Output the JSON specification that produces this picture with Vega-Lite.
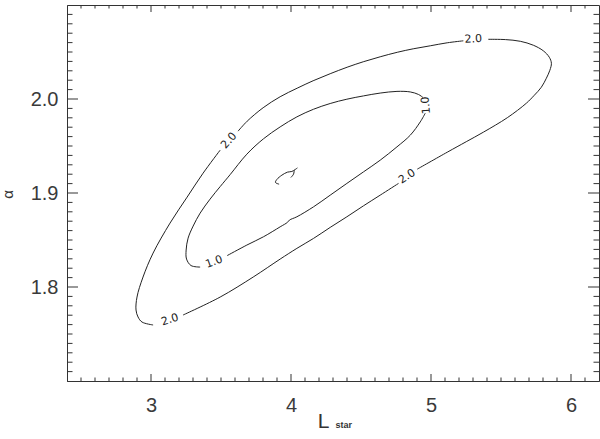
{
  "$schema": "https://vega.github.io/schema/vega-lite/v6.json",
  "width": 532,
  "height": 376,
  "autosize": {"type": "none"},
  "padding": {"left": 67, "top": 5, "right": 1, "bottom": 58},
  "background": "white",
  "config": {
    "view": {"stroke": "#333", "strokeWidth": 1},
    "axis": {
      "grid": false,
      "labelFont": "Liberation Sans",
      "labelFontSize": 20,
      "labelColor": "#3a3a3a",
      "domainColor": "#333",
      "tickColor": "#333",
      "titleColor": "#333",
      "titleFont": "Liberation Sans",
      "titleFontWeight": "normal"
    }
  },
  "datasets": {
    "lines": [
      {"seg": "A", "i": 0, "x": 5.409, "y": 2.0635},
      {"seg": "A", "i": 1, "x": 5.531, "y": 2.0632},
      {"seg": "A", "i": 2, "x": 5.638, "y": 2.0614},
      {"seg": "A", "i": 3, "x": 5.731, "y": 2.0572},
      {"seg": "A", "i": 4, "x": 5.802, "y": 2.0513},
      {"seg": "A", "i": 5, "x": 5.845, "y": 2.0444},
      {"seg": "A", "i": 6, "x": 5.860, "y": 2.0380},
      {"seg": "A", "i": 7, "x": 5.849, "y": 2.0306},
      {"seg": "A", "i": 8, "x": 5.824, "y": 2.0221},
      {"seg": "A", "i": 9, "x": 5.788, "y": 2.0125},
      {"seg": "A", "i": 10, "x": 5.738, "y": 2.0040},
      {"seg": "A", "i": 11, "x": 5.681, "y": 1.9955},
      {"seg": "A", "i": 12, "x": 5.545, "y": 1.9801},
      {"seg": "A", "i": 13, "x": 5.374, "y": 1.9647},
      {"seg": "A", "i": 14, "x": 5.252, "y": 1.9546},
      {"seg": "A", "i": 15, "x": 5.116, "y": 1.9434},
      {"seg": "A", "i": 16, "x": 4.902, "y": 1.9254},
      {"seg": "B", "i": 0, "x": 4.768, "y": 1.9102},
      {"seg": "B", "i": 1, "x": 4.637, "y": 1.8977},
      {"seg": "B", "i": 2, "x": 4.518, "y": 1.8864},
      {"seg": "B", "i": 3, "x": 4.399, "y": 1.8747},
      {"seg": "B", "i": 4, "x": 4.280, "y": 1.8634},
      {"seg": "B", "i": 5, "x": 4.161, "y": 1.8517},
      {"seg": "B", "i": 6, "x": 4.042, "y": 1.8411},
      {"seg": "B", "i": 7, "x": 3.9225, "y": 1.8297},
      {"seg": "B", "i": 8, "x": 3.730, "y": 1.8106},
      {"seg": "B", "i": 9, "x": 3.494, "y": 1.7893},
      {"seg": "B", "i": 10, "x": 3.229, "y": 1.7702},
      {"seg": "C", "i": 0, "x": 3.015, "y": 1.7596},
      {"seg": "C", "i": 1, "x": 2.936, "y": 1.7627},
      {"seg": "C", "i": 2, "x": 2.9075, "y": 1.7681},
      {"seg": "C", "i": 3, "x": 2.893, "y": 1.7755},
      {"seg": "C", "i": 4, "x": 2.900, "y": 1.7893},
      {"seg": "C", "i": 5, "x": 2.943, "y": 1.8106},
      {"seg": "C", "i": 6, "x": 3.015, "y": 1.8361},
      {"seg": "C", "i": 7, "x": 3.136, "y": 1.8680},
      {"seg": "C", "i": 8, "x": 3.258, "y": 1.8956},
      {"seg": "C", "i": 9, "x": 3.372, "y": 1.9211},
      {"seg": "C", "i": 10, "x": 3.494, "y": 1.9456},
      {"seg": "D", "i": 0, "x": 3.622, "y": 1.9658},
      {"seg": "D", "i": 1, "x": 3.687, "y": 1.9764},
      {"seg": "D", "i": 2, "x": 3.801, "y": 1.9907},
      {"seg": "D", "i": 3, "x": 3.9225, "y": 2.0024},
      {"seg": "D", "i": 4, "x": 4.044, "y": 2.0115},
      {"seg": "D", "i": 5, "x": 4.158, "y": 2.0194},
      {"seg": "D", "i": 6, "x": 4.280, "y": 2.0269},
      {"seg": "D", "i": 7, "x": 4.401, "y": 2.0338},
      {"seg": "D", "i": 8, "x": 4.516, "y": 2.0396},
      {"seg": "D", "i": 9, "x": 4.637, "y": 2.0449},
      {"seg": "D", "i": 10, "x": 4.759, "y": 2.0497},
      {"seg": "D", "i": 11, "x": 4.873, "y": 2.0534},
      {"seg": "D", "i": 12, "x": 4.995, "y": 2.0566},
      {"seg": "D", "i": 13, "x": 5.116, "y": 2.0598},
      {"seg": "D", "i": 14, "x": 5.231, "y": 2.0619},
      {"seg": "E", "i": 0, "x": 4.959, "y": 1.9849},
      {"seg": "E", "i": 1, "x": 4.923, "y": 1.9756},
      {"seg": "E", "i": 2, "x": 4.852, "y": 1.9615},
      {"seg": "E", "i": 3, "x": 4.757, "y": 1.9491},
      {"seg": "E", "i": 4, "x": 4.637, "y": 1.9349},
      {"seg": "E", "i": 5, "x": 4.518, "y": 1.9225},
      {"seg": "E", "i": 6, "x": 4.399, "y": 1.9102},
      {"seg": "E", "i": 7, "x": 4.280, "y": 1.8977},
      {"seg": "E", "i": 8, "x": 4.161, "y": 1.8853},
      {"seg": "E", "i": 9, "x": 4.042, "y": 1.8747},
      {"seg": "E", "i": 10, "x": 3.989, "y": 1.8712},
      {"seg": "E", "i": 11, "x": 3.975, "y": 1.8688},
      {"seg": "E", "i": 12, "x": 3.9225, "y": 1.8640},
      {"seg": "E", "i": 13, "x": 3.803, "y": 1.8534},
      {"seg": "E", "i": 14, "x": 3.6845, "y": 1.8446},
      {"seg": "E", "i": 15, "x": 3.544, "y": 1.8334},
      {"seg": "F", "i": 0, "x": 3.351, "y": 1.8212},
      {"seg": "F", "i": 1, "x": 3.286, "y": 1.8228},
      {"seg": "F", "i": 2, "x": 3.254, "y": 1.8297},
      {"seg": "F", "i": 3, "x": 3.251, "y": 1.8393},
      {"seg": "F", "i": 4, "x": 3.265, "y": 1.8520},
      {"seg": "F", "i": 5, "x": 3.301, "y": 1.8648},
      {"seg": "F", "i": 6, "x": 3.351, "y": 1.8786},
      {"seg": "F", "i": 7, "x": 3.422, "y": 1.8935},
      {"seg": "F", "i": 8, "x": 3.494, "y": 1.9068},
      {"seg": "F", "i": 9, "x": 3.565, "y": 1.9195},
      {"seg": "F", "i": 10, "x": 3.6845, "y": 1.9413},
      {"seg": "F", "i": 11, "x": 3.803, "y": 1.9576},
      {"seg": "F", "i": 12, "x": 3.9225, "y": 1.9703},
      {"seg": "F", "i": 13, "x": 4.042, "y": 1.9810},
      {"seg": "F", "i": 14, "x": 4.161, "y": 1.9891},
      {"seg": "F", "i": 15, "x": 4.280, "y": 1.9952},
      {"seg": "F", "i": 16, "x": 4.399, "y": 1.9998},
      {"seg": "F", "i": 17, "x": 4.518, "y": 2.0033},
      {"seg": "F", "i": 18, "x": 4.637, "y": 2.0063},
      {"seg": "F", "i": 19, "x": 4.757, "y": 2.0081},
      {"seg": "F", "i": 20, "x": 4.852, "y": 2.0075},
      {"seg": "F", "i": 21, "x": 4.911, "y": 2.0048},
      {"seg": "F", "i": 22, "x": 4.9425, "y": 2.0016},
      {"seg": "G", "i": 0, "x": 3.915, "y": 1.9094},
      {"seg": "G", "i": 1, "x": 3.889, "y": 1.9112},
      {"seg": "G", "i": 2, "x": 3.899, "y": 1.9144},
      {"seg": "G", "i": 3, "x": 3.935, "y": 1.9190},
      {"seg": "G", "i": 4, "x": 3.975, "y": 1.9222},
      {"seg": "G", "i": 5, "x": 4.006, "y": 1.9229},
      {"seg": "G", "i": 6, "x": 4.030, "y": 1.9250},
      {"seg": "G", "i": 7, "x": 4.046, "y": 1.9267},
      {"seg": "H", "i": 0, "x": 4.023, "y": 1.9243},
      {"seg": "H", "i": 1, "x": 4.018, "y": 1.9200},
      {"seg": "H", "i": 2, "x": 3.999, "y": 1.9165}
    ],
    "labels": [
      {"lab": 1, "x": 5.302, "y": 2.0635, "t": "2.0"},
      {"lab": 2, "x": 4.830, "y": 1.9174, "t": "2.0"},
      {"lab": 3, "x": 3.136, "y": 1.7649, "t": "2.0"},
      {"lab": 4, "x": 3.558, "y": 1.9556, "t": "2.0"},
      {"lab": 5, "x": 3.451, "y": 1.8265, "t": "1.0"},
      {"lab": 6, "x": 4.966, "y": 1.9934, "t": "1.0"}
    ],
    "xmaj": [{"v": 3}, {"v": 4}, {"v": 5}, {"v": 6}],
    "xmin": [{"v": 2.5}, {"v": 2.6}, {"v": 2.7}, {"v": 2.8}, {"v": 2.9}, {"v": 3.1}, {"v": 3.2}, {"v": 3.3}, {"v": 3.4}, {"v": 3.5}, {"v": 3.6}, {"v": 3.7}, {"v": 3.8}, {"v": 3.9}, {"v": 4.1}, {"v": 4.2}, {"v": 4.3}, {"v": 4.4}, {"v": 4.5}, {"v": 4.6}, {"v": 4.7}, {"v": 4.8}, {"v": 4.9}, {"v": 5.1}, {"v": 5.2}, {"v": 5.3}, {"v": 5.4}, {"v": 5.5}, {"v": 5.6}, {"v": 5.7}, {"v": 5.8}, {"v": 5.9}, {"v": 6.1}],
    "ymaj": [{"v": 1.8}, {"v": 1.9}, {"v": 2.0}],
    "ymin": [{"v": 1.71}, {"v": 1.72}, {"v": 1.73}, {"v": 1.74}, {"v": 1.75}, {"v": 1.76}, {"v": 1.77}, {"v": 1.78}, {"v": 1.79}, {"v": 1.81}, {"v": 1.82}, {"v": 1.83}, {"v": 1.84}, {"v": 1.85}, {"v": 1.86}, {"v": 1.87}, {"v": 1.88}, {"v": 1.89}, {"v": 1.91}, {"v": 1.92}, {"v": 1.93}, {"v": 1.94}, {"v": 1.95}, {"v": 1.96}, {"v": 1.97}, {"v": 1.98}, {"v": 1.99}, {"v": 2.01}, {"v": 2.02}, {"v": 2.03}, {"v": 2.04}, {"v": 2.05}, {"v": 2.06}, {"v": 2.07}, {"v": 2.08}, {"v": 2.09}]
  },
  "resolve": {"axis": {"x": "independent", "y": "independent"}},
  "layer": [
    {
      "data": {"name": "lines"},
      "mark": {"type": "line", "color": "#222", "strokeWidth": 1, "interpolate": "catmull-rom"},
      "encoding": {
        "x": {"field": "x", "type": "quantitative", "scale": {"domain": [2.4, 6.2], "nice": false, "zero": false},
          "axis": {"orient": "bottom", "values": [3, 4, 5, 6], "format": "d", "ticks": false, "labelPadding": 14,
            "title": "L", "titleX": 256, "titleY": 46, "titleAlign": "center", "titleBaseline": "alphabetic", "titleFontSize": 21, "titleAngle": 0}},
        "y": {"field": "y", "type": "quantitative", "scale": {"domain": [1.7, 2.1], "nice": false, "zero": false},
          "axis": {"orient": "left", "values": [1.8, 1.9, 2.0], "format": ".1f", "ticks": false, "labelPadding": 9,
            "title": "α", "titleX": -60, "titleY": 189, "titleAngle": -90, "titleAlign": "center", "titleBaseline": "middle", "titleFontSize": 15}},
        "detail": {"field": "seg"},
        "order": {"field": "i", "type": "quantitative"}
      }
    },
    {
      "data": {"name": "labels"},
      "transform": [{"filter": "datum.lab == 1"}],
      "mark": {"type": "text", "angle": -3, "font": "DejaVu Sans", "fontSize": 11, "color": "#222", "align": "center", "baseline": "middle"},
      "encoding": {
        "x": {"field": "x", "type": "quantitative", "scale": {"domain": [2.4, 6.2], "nice": false, "zero": false},
          "axis": {"orient": "bottom", "values": [3], "labels": false, "ticks": false, "domain": false,
            "title": "star", "titleX": 268, "titleY": 46, "titleAlign": "left", "titleBaseline": "alphabetic", "titleFontSize": 9, "titleFontWeight": "bold", "titleAngle": 0}},
        "y": {"field": "y", "type": "quantitative", "scale": {"domain": [1.7, 2.1], "nice": false, "zero": false}, "axis": null},
        "text": {"field": "t"}
      }
    },
    {
      "data": {"name": "labels"},
      "transform": [{"filter": "datum.lab == 2"}],
      "mark": {"type": "text", "angle": -33, "font": "DejaVu Sans", "fontSize": 11, "color": "#222", "align": "center", "baseline": "middle"},
      "encoding": {
        "x": {"field": "x", "type": "quantitative", "scale": {"domain": [2.4, 6.2], "nice": false, "zero": false}, "axis": null},
        "y": {"field": "y", "type": "quantitative", "scale": {"domain": [1.7, 2.1], "nice": false, "zero": false}, "axis": null},
        "text": {"field": "t"}
      }
    },
    {
      "data": {"name": "labels"},
      "transform": [{"filter": "datum.lab == 3"}],
      "mark": {"type": "text", "angle": -17, "font": "DejaVu Sans", "fontSize": 11, "color": "#222", "align": "center", "baseline": "middle"},
      "encoding": {
        "x": {"field": "x", "type": "quantitative", "scale": {"domain": [2.4, 6.2], "nice": false, "zero": false}, "axis": null},
        "y": {"field": "y", "type": "quantitative", "scale": {"domain": [1.7, 2.1], "nice": false, "zero": false}, "axis": null},
        "text": {"field": "t"}
      }
    },
    {
      "data": {"name": "labels"},
      "transform": [{"filter": "datum.lab == 4"}],
      "mark": {"type": "text", "angle": -48, "font": "DejaVu Sans", "fontSize": 11, "color": "#222", "align": "center", "baseline": "middle"},
      "encoding": {
        "x": {"field": "x", "type": "quantitative", "scale": {"domain": [2.4, 6.2], "nice": false, "zero": false}, "axis": null},
        "y": {"field": "y", "type": "quantitative", "scale": {"domain": [1.7, 2.1], "nice": false, "zero": false}, "axis": null},
        "text": {"field": "t"}
      }
    },
    {
      "data": {"name": "labels"},
      "transform": [{"filter": "datum.lab == 5"}],
      "mark": {"type": "text", "angle": -20, "font": "DejaVu Sans", "fontSize": 11, "color": "#222", "align": "center", "baseline": "middle"},
      "encoding": {
        "x": {"field": "x", "type": "quantitative", "scale": {"domain": [2.4, 6.2], "nice": false, "zero": false}, "axis": null},
        "y": {"field": "y", "type": "quantitative", "scale": {"domain": [1.7, 2.1], "nice": false, "zero": false}, "axis": null},
        "text": {"field": "t"}
      }
    },
    {
      "data": {"name": "labels"},
      "transform": [{"filter": "datum.lab == 6"}],
      "mark": {"type": "text", "angle": -95, "font": "DejaVu Sans", "fontSize": 11, "color": "#222", "align": "center", "baseline": "middle"},
      "encoding": {
        "x": {"field": "x", "type": "quantitative", "scale": {"domain": [2.4, 6.2], "nice": false, "zero": false}, "axis": null},
        "y": {"field": "y", "type": "quantitative", "scale": {"domain": [1.7, 2.1], "nice": false, "zero": false}, "axis": null},
        "text": {"field": "t"}
      }
    },
    {
      "data": {"name": "xmaj"},
      "mark": {"type": "tick", "orient": "vertical", "size": 14, "thickness": 1, "color": "#333", "opacity": 1, "clip": true},
      "encoding": {
        "x": {"field": "v", "type": "quantitative", "scale": {"domain": [2.4, 6.2], "nice": false, "zero": false}, "axis": null},
        "y": {"datum": 1.7, "type": "quantitative", "scale": {"domain": [1.7, 2.1], "nice": false, "zero": false}, "axis": null}
      }
    },
    {
      "data": {"name": "xmaj"},
      "mark": {"type": "tick", "orient": "vertical", "size": 14, "thickness": 1, "color": "#333", "opacity": 1, "clip": true},
      "encoding": {
        "x": {"field": "v", "type": "quantitative", "scale": {"domain": [2.4, 6.2], "nice": false, "zero": false}, "axis": null},
        "y": {"datum": 2.1, "type": "quantitative", "scale": {"domain": [1.7, 2.1], "nice": false, "zero": false}, "axis": null}
      }
    },
    {
      "data": {"name": "xmin"},
      "mark": {"type": "tick", "orient": "vertical", "size": 7, "thickness": 1, "color": "#333", "opacity": 1, "clip": true},
      "encoding": {
        "x": {"field": "v", "type": "quantitative", "scale": {"domain": [2.4, 6.2], "nice": false, "zero": false}, "axis": null},
        "y": {"datum": 1.7, "type": "quantitative", "scale": {"domain": [1.7, 2.1], "nice": false, "zero": false}, "axis": null}
      }
    },
    {
      "data": {"name": "xmin"},
      "mark": {"type": "tick", "orient": "vertical", "size": 7, "thickness": 1, "color": "#333", "opacity": 1, "clip": true},
      "encoding": {
        "x": {"field": "v", "type": "quantitative", "scale": {"domain": [2.4, 6.2], "nice": false, "zero": false}, "axis": null},
        "y": {"datum": 2.1, "type": "quantitative", "scale": {"domain": [1.7, 2.1], "nice": false, "zero": false}, "axis": null}
      }
    },
    {
      "data": {"name": "ymaj"},
      "mark": {"type": "tick", "orient": "horizontal", "size": 22, "thickness": 1, "color": "#333", "opacity": 1, "clip": true},
      "encoding": {
        "y": {"field": "v", "type": "quantitative", "scale": {"domain": [1.7, 2.1], "nice": false, "zero": false}, "axis": null},
        "x": {"datum": 2.4, "type": "quantitative", "scale": {"domain": [2.4, 6.2], "nice": false, "zero": false}, "axis": null}
      }
    },
    {
      "data": {"name": "ymaj"},
      "mark": {"type": "tick", "orient": "horizontal", "size": 22, "thickness": 1, "color": "#333", "opacity": 1, "clip": true},
      "encoding": {
        "y": {"field": "v", "type": "quantitative", "scale": {"domain": [1.7, 2.1], "nice": false, "zero": false}, "axis": null},
        "x": {"datum": 6.2, "type": "quantitative", "scale": {"domain": [2.4, 6.2], "nice": false, "zero": false}, "axis": null}
      }
    },
    {
      "data": {"name": "ymin"},
      "mark": {"type": "tick", "orient": "horizontal", "size": 11, "thickness": 1, "color": "#333", "opacity": 1, "clip": true},
      "encoding": {
        "y": {"field": "v", "type": "quantitative", "scale": {"domain": [1.7, 2.1], "nice": false, "zero": false}, "axis": null},
        "x": {"datum": 2.4, "type": "quantitative", "scale": {"domain": [2.4, 6.2], "nice": false, "zero": false}, "axis": null}
      }
    },
    {
      "data": {"name": "ymin"},
      "mark": {"type": "tick", "orient": "horizontal", "size": 11, "thickness": 1, "color": "#333", "opacity": 1, "clip": true},
      "encoding": {
        "y": {"field": "v", "type": "quantitative", "scale": {"domain": [1.7, 2.1], "nice": false, "zero": false}, "axis": null},
        "x": {"datum": 6.2, "type": "quantitative", "scale": {"domain": [2.4, 6.2], "nice": false, "zero": false}, "axis": null}
      }
    }
  ]
}
